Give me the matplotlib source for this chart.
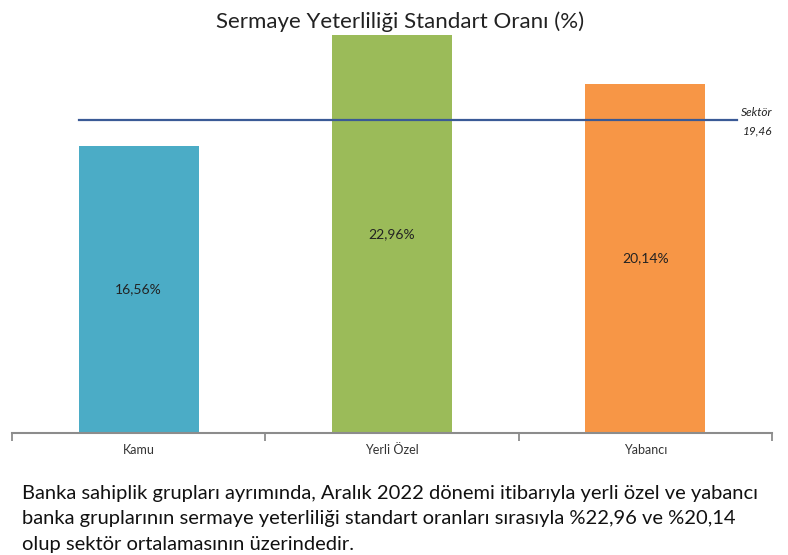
import matplotlib
matplotlib.use("Agg")
import matplotlib.pyplot as plt

plt.rcParams['font.family'] = ['Lato', 'DejaVu Sans']

gruplar = ['Kamu', 'Yerli Özel', 'Yabancı']
oranlar = [16.56, 22.96, 20.14]
renkler = ['#4BACC6', '#9BBB59', '#F79646']
sektor_etiket = '19,46'
sektor_cizgi = 18.05  # line position as drawn in the source chart

aciklama = ("Banka sahiplik grupları ayrımında, Aralık 2022 dönemi itibarıyla yerli özel ve yabancı\n"
            "banka gruplarının sermaye yeterliliği standart oranları sırasıyla %22,96 ve %20,14\n"
            "olup sektör ortalamasının üzerindedir.")

fig = plt.figure(figsize=(7.88, 5.55), dpi=100)
ax = fig.add_axes([12 / 788, 122 / 555, 760 / 788, 398.6 / 555])

x = range(len(gruplar))
ax.bar(x, oranlar, width=0.474, color=renkler, zorder=2)
for i, v in enumerate(oranlar):
    ax.text(i, v / 2, '{:.2f}%'.format(v).replace('.', ','), ha='center', va='center',
            fontsize=10, color='#222222', zorder=3)

ax.plot([-0.235, 2.36], [sektor_cizgi, sektor_cizgi], color='#3A5A96', lw=1.6,
        zorder=4, clip_on=False)
ax.text(2.5, sektor_cizgi + 0.45, 'Sektör', ha='right', va='center', style='italic',
        fontsize=8.5, color='#222222')
ax.text(2.5, sektor_cizgi - 0.62, sektor_etiket, ha='right', va='center', style='italic',
        fontsize=8.5, color='#222222')

ax.set_xlim(-0.5, 2.5)
ax.set_ylim(0, 23)
for s in ['top', 'right', 'left']:
    ax.spines[s].set_visible(False)
ax.spines['bottom'].set_color('#8C8C8C')
ax.spines['bottom'].set_linewidth(1.5)
ax.set_yticks([])
ax.set_xticks([-0.5, 0.5, 1.5, 2.5])
ax.set_xticklabels([])
ax.tick_params(axis='x', which='major', length=6, width=1.3, color='#8C8C8C')
ax.set_xticks(list(x), minor=True)
ax.set_xticklabels(gruplar, minor=True, fontsize=9, color='#333333')
ax.tick_params(axis='x', which='minor', length=0, pad=8)

fig.text(400 / 788, 1 - 22 / 555, 'Sermaye Yeterliliği Standart Oranı (%)', ha='center',
         va='center', fontsize=16, color='#222222')
fig.text(22 / 788, 1 - 485 / 555, aciklama, ha='left', va='top', fontsize=14.5,
         color='#111111', linespacing=1.6)

fig.savefig('out.png', dpi=100)
